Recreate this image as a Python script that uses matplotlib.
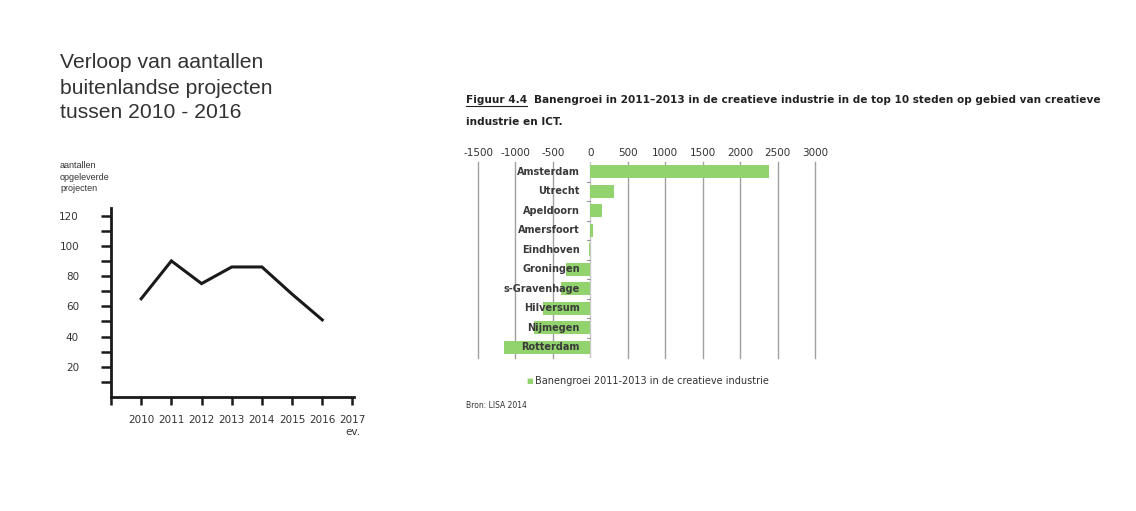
import matplotlib.pyplot as plt
from matplotlib.lines import Line2D
import numpy as np

plt.rcParams['axes.unicode_minus'] = False

# left chart: aantallen opgeleverde projecten per jaar
years = [2010, 2011, 2012, 2013, 2014, 2015, 2016]
projects = [65, 90, 75, 86, 86, 68, 51]
year_ticks = [2009, 2010, 2011, 2012, 2013, 2014, 2015, 2016, 2017]
year_labels = ['', '2010', '2011', '2012', '2013', '2014', '2015', '2016', '2017\nev.']

# right chart: banengroei 2011-2013 in de creatieve industrie
cities = ['Amsterdam', 'Utrecht', 'Apeldoorn', 'Amersfoort', 'Eindhoven',
          'Groningen', 's-Gravenhage', 'Hilversum', 'Nijmegen', 'Rotterdam']
growth = [2380, 310, 150, 35, -20, -320, -390, -630, -755, -1155]
growth_ticks = [-1500, -1000, -500, 0, 500, 1000, 1500, 2000, 2500, 3000]

fig = plt.figure(figsize=(11.36, 5.11), dpi=100)
txt = '#333333'

# ---- left chart
fig.text(60 / 1136, 1 - 88 / 511, 'Verloop van aantallen\nbuitenlandse projecten\ntussen 2010 - 2016',
         fontsize=15.2, color=txt, va='center', ha='left', linespacing=1.4,
         family='Liberation Sans')
fig.text(60 / 1136, 1 - 177 / 511, 'aantallen\nopgeleverde\nprojecten',
         fontsize=6.5, color=txt, va='center', ha='left', linespacing=1.4,
         family='Liberation Sans')

ax1 = fig.add_axes([111 / 1136, 1 - 397 / 511, (354 - 111) / 1136, (397 - 208) / 511])
ax1.plot(years, projects, color='#1a1a1a', lw=2.2, solid_joinstyle='miter')
ax1.set_xlim(2009, 2017.05)
ax1.set_ylim(0, 125)
ax1.set_xticks(year_ticks)
ax1.set_xticklabels(year_labels)
ax1.set_yticks(range(20, 121, 20))
ax1.set_yticks(range(10, 121, 10), minor=True)
for s in ['top', 'right']:
    ax1.spines[s].set_visible(False)
for s in ['left', 'bottom']:
    ax1.spines[s].set_linewidth(2)
    ax1.spines[s].set_color('#1a1a1a')
ax1.tick_params(axis='y', which='both', direction='out', length=7, width=1.8,
                colors='#1a1a1a', labelcolor=txt, labelsize=7.5, pad=16)
ax1.tick_params(axis='y', which='minor', length=7)
ax1.tick_params(axis='x', direction='out', length=6, width=1.8,
                colors='#1a1a1a', labelcolor=txt, labelsize=7.5, pad=7)
for lbl in ax1.get_xticklabels():
    lbl.set_verticalalignment('top')
    lbl.set_linespacing(1.3)

# ---- right chart
fig.text(466 / 1136, 1 - 100 / 511, 'Figuur 4.4', fontsize=7.6, fontweight='bold',
         color='#222222', va='center', ha='left')
fig.add_artist(Line2D([466 / 1136, 527 / 1136], [1 - 106 / 511, 1 - 106 / 511],
                      color='#222222', lw=0.8))
fig.text(534 / 1136, 1 - 100 / 511,
         'Banengroei in 2011\u20132013 in de creatieve industrie in de top 10 steden op gebied van creatieve',
         fontsize=7.6, fontweight='bold', color='#222222', va='center', ha='left')
fig.text(466 / 1136, 1 - 122 / 511, 'industrie en ICT.', fontsize=7.6, fontweight='bold',
         color='#222222', va='center', ha='left')

ax2 = fig.add_axes([478 / 1136, 1 - 358 / 511, (815 - 478) / 1136, (358 - 162) / 511])
ypos = np.arange(len(cities))
ax2.barh(ypos, growth, height=0.68, color='#92d36e', zorder=2)
ax2.set_xlim(-1500, 3000)
ax2.set_ylim(len(cities) - 0.45, -0.5)
ax2.set_xticks(growth_ticks)
ax2.xaxis.tick_top()
ax2.tick_params(axis='x', length=0, labelsize=7.5, labelcolor='#333333', pad=3)
ax2.set_yticks([])
for g in growth_ticks:
    if g != 0:
        ax2.axvline(g, color='#a0a0a0', lw=1, zorder=0, clip_on=False)
ax2.axvline(0, color='#c8c8c8', lw=1, zorder=1)
for s in ax2.spines.values():
    s.set_visible(False)
for i, c in enumerate(cities):
    ax2.text(-140, i, c, ha='right', va='center', fontsize=7, fontweight='bold',
             color='#3a3a3a', zorder=3)
for i in range(len(cities) - 1):
    ax2.plot([-50, 0], [i + 0.5, i + 0.5], color='#999999', lw=0.8, zorder=3)

fig.text(526 / 1136, 1 - 381 / 511, '\u25a0', fontsize=5, color='#92d36e',
         va='center', ha='left')
fig.text(535 / 1136, 1 - 381 / 511, 'Banengroei 2011-2013 in de creatieve industrie',
         fontsize=7, color='#333333', va='center', ha='left')
fig.text(466 / 1136, 1 - 405 / 511, 'Bron: LISA 2014', fontsize=5.5, color='#333333',
         va='center', ha='left')

fig.savefig('out.png', dpi=100)
